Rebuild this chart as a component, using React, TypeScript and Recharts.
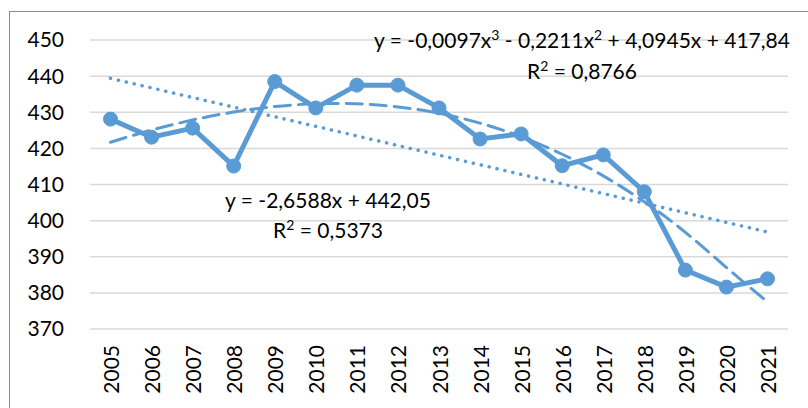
import React from "react";
import { LineChart, Line, XAxis, YAxis, CartesianGrid } from "recharts";

const years = [
  "2005", "2006", "2007", "2008", "2009", "2010", "2011", "2012", "2013",
  "2014", "2015", "2016", "2017", "2018", "2019", "2020", "2021",
];
const values = [
  428.1, 423.1, 425.6, 415.1, 438.5, 431.2, 437.5, 437.5, 431.2,
  422.6, 424.0, 415.2, 418.2, 408.0, 386.3, 381.6, 383.9,
];
// linear trend as shown: y = -2,6588x + 442,05
const linearTrend = [
  439.39, 436.73, 434.07, 431.42, 428.76, 426.1, 423.44, 420.78, 418.12,
  415.46, 412.8, 410.14, 407.49, 404.83, 402.17, 399.51, 396.85,
];
// polynomial trend as shown: y = -0,0097x³ - 0,2211x² + 4,0945x + 417,84
const cubicTrend = [
  421.7, 425.07, 427.87, 430.06, 431.57, 432.35, 432.34, 431.48, 429.71,
  426.98, 423.22, 418.37, 412.39, 405.21, 396.77, 387.02, 377.5,
];
const yTicks = [370, 380, 390, 400, 410, 420, 430, 440, 450];

const BLUE = "#5B9BD5";
const FONT = "Lato, 'Liberation Sans', sans-serif";

const data = years.map((year, i) => ({
  year,
  value: values[i],
  linear: linearTrend[i],
  cubic: cubicTrend[i],
}));

function YearTick({ x, y, payload }: any) {
  return (
    <text
      x={x}
      y={y}
      transform={`rotate(-90 ${x} ${y})`}
      textAnchor="end"
      dominantBaseline="central"
      fontSize={21}
      fontFamily={FONT}
      fill="#000"
    >
      {payload.value}
    </text>
  );
}

const labelStyle: React.CSSProperties = {
  position: "absolute",
  transform: "translate(-50%, -50%)",
  whiteSpace: "nowrap",
  fontFamily: FONT,
  fontSize: 21,
  color: "#000",
  lineHeight: 1,
};

const Sup = ({ children }: { children: React.ReactNode }) => (
  <span style={{ fontSize: 14, position: "relative", top: -8 }}>{children}</span>
);

export default function App() {
  return (
    <div style={{ position: "fixed", left: 0, top: 0, width: 808, height: 408, background: "#fff", overflow: "hidden" }}>
      {/* chart border */}
      <div
        style={{
          position: "absolute",
          left: 9,
          top: 11,
          width: 820,
          height: 420,
          borderLeft: "1.5px solid #8c8c8c",
          borderTop: "1.5px solid #8c8c8c",
        }}
      />
      <LineChart
        width={808}
        height={408}
        data={data}
        margin={{ top: 40, right: 20, bottom: 0, left: 0 }}
        style={{ position: "absolute", left: 0, top: 0 }}
      >
        <CartesianGrid vertical={false} stroke="#d9d9d9" strokeWidth={1.5} />
        <XAxis
          dataKey="year"
          height={79}
          padding={{ left: 20.5, right: 20.5 }}
          axisLine={false}
          tickLine={false}
          tickSize={0}
          tickMargin={16}
          interval={0}
          tick={<YearTick />}
        />
        <YAxis
          width={90}
          domain={[370, 450]}
          ticks={yTicks}
          axisLine={false}
          tickLine={false}
          tickSize={0}
          tickMargin={26}
          tick={{ fill: "#000", fontSize: 21, fontFamily: FONT }}
        />
        <Line
          dataKey="linear"
          type="linear"
          stroke={BLUE}
          strokeWidth={3.5}
          strokeDasharray="0.1 8"
          strokeLinecap="round"
          dot={false}
          isAnimationActive={false}
        />
        <Line
          dataKey="cubic"
          type="natural"
          stroke={BLUE}
          strokeWidth={3}
          strokeDasharray="16 8"
          strokeLinecap="round"
          dot={false}
          isAnimationActive={false}
        />
        <Line
          dataKey="value"
          type="linear"
          stroke={BLUE}
          strokeWidth={5}
          dot={{ r: 7, fill: BLUE, stroke: BLUE, strokeWidth: 1 }}
          isAnimationActive={false}
        />
      </LineChart>
      <div style={{ ...labelStyle, left: 582, top: 39 }}>
        y = -0,0097x<Sup>3</Sup> - 0,2211x<Sup>2</Sup> + 4,0945x + 417,84
      </div>
      <div style={{ ...labelStyle, left: 582, top: 70 }}>
        R<Sup>2</Sup> = 0,8766
      </div>
      <div style={{ ...labelStyle, left: 328, top: 199 }}>y = -2,6588x + 442,05</div>
      <div style={{ ...labelStyle, left: 328, top: 229 }}>
        R<Sup>2</Sup> = 0,5373
      </div>
    </div>
  );
}
